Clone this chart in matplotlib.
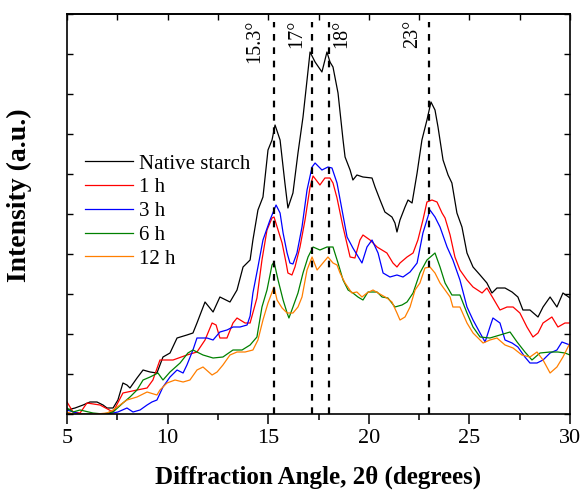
import matplotlib
matplotlib.use("Agg")
import matplotlib.pyplot as plt

plt.rcParams['font.family'] = ['Liberation Serif', 'DejaVu Serif']
plt.rcParams['mathtext.fontset'] = 'stix'

# ---------------- data (2θ in degrees, intensity in a.u.) ----------------
native_x = [5.0, 5.4, 5.8, 6.14, 6.49, 6.79, 6.99, 7.29, 7.53, 7.78,
            7.98, 8.13, 8.48, 8.78, 9.13, 9.47, 9.77, 10.12, 10.47, 10.96,
            11.26, 11.46, 11.86, 12.26, 12.6, 13.1, 13.45, 13.75, 14.1, 14.24,
            14.49, 14.74, 14.99, 15.19, 15.34, 15.59, 15.83, 15.98, 16.23, 16.48,
            16.73, 16.93, 17.08, 17.33, 17.67, 17.92, 18.07, 18.22, 18.47, 18.72,
            18.82, 19.07, 19.21, 19.41, 19.71, 20.16, 20.31, 20.56, 20.8, 21.15,
            21.3, 21.4, 21.55, 21.8, 21.95, 22.15, 22.4, 22.64, 22.89, 23.09,
            23.29, 23.44, 23.69, 23.94, 24.13, 24.38, 24.63, 24.88, 25.18, 25.53,
            25.87, 26.12, 26.37, 26.77, 27.12, 27.41, 27.66, 28.01, 28.41, 28.66,
            29.01, 29.35, 29.65, 30.0]
native_y = [4, 6, 9, 12, 12, 9, 6, 6, 14, 31,
            29, 26, 36, 44, 42, 41, 57, 61, 76, 79,
            81, 91, 112, 102, 117, 112, 124, 147, 154, 174,
            204, 217, 264, 274, 289, 274, 231, 206, 221, 261,
            297, 334, 362, 352, 342, 362, 352, 347, 321, 274,
            257, 244, 234, 239, 237, 236, 227, 214, 202, 197,
            191, 182, 194, 207, 214, 211, 241, 274, 294, 312,
            304, 287, 254, 239, 231, 201, 187, 161, 147, 139,
            131, 121, 126, 126, 122, 117, 104, 104, 97, 107,
            117, 107, 121, 116]

h1_x = [5.0, 5.3, 5.65, 5.99, 6.64, 7.29, 7.78, 8.48, 8.98, 9.27,
        9.62, 10.27, 10.96, 11.46, 11.86, 12.21, 12.41, 12.6, 12.95, 13.25,
        13.45, 13.85, 14.1, 14.44, 14.69, 14.94, 15.19, 15.29, 15.49, 15.69,
        15.89, 15.98, 16.18, 16.33, 16.58, 16.83, 17.08, 17.23, 17.57, 17.82,
        18.07, 18.22, 18.42, 18.72, 19.07, 19.31, 19.56, 19.71, 20.06, 20.41,
        20.9, 21.2, 21.4, 21.55, 21.9, 22.2, 22.44, 22.69, 22.89, 23.14,
        23.39, 23.64, 23.79, 24.04, 24.28, 24.53, 24.88, 25.18, 25.63, 25.87,
        26.17, 26.52, 26.87, 27.17, 27.51, 27.86, 28.16, 28.41, 28.66, 29.1,
        29.4, 29.75, 30.0]
h1_y = [12, 2, 1, 11, 9, 2, 21, 24, 26, 34,
        54, 54, 59, 62, 74, 91, 89, 76, 76, 91,
        96, 91, 91, 116, 154, 184, 196, 197, 184, 171,
        151, 141, 139, 147, 167, 194, 227, 238, 229, 236,
        236, 231, 216, 187, 157, 156, 174, 179, 174, 167,
        161, 151, 147, 151, 157, 161, 174, 194, 212, 214,
        212, 201, 196, 179, 157, 144, 134, 127, 121, 126,
        116, 104, 107, 107, 101, 87, 77, 81, 91, 97,
        87, 91, 91]

h3_x = [5.0, 5.65, 6.79, 7.29, 7.53, 7.98, 8.28, 8.63, 8.98, 9.22,
        9.47, 9.77, 10.12, 10.47, 10.77, 10.96, 11.26, 11.46, 11.96, 12.26,
        12.6, 12.95, 13.25, 13.6, 13.95, 14.1, 14.24, 14.49, 14.74, 15.09,
        15.39, 15.59, 15.74, 15.94, 16.08, 16.23, 16.43, 16.68, 16.93, 17.18,
        17.33, 17.67, 17.97, 18.17, 18.42, 18.67, 18.92, 19.21, 19.66, 19.91,
        20.16, 20.46, 20.71, 21.05, 21.4, 21.7, 22.05, 22.4, 22.69, 23.04,
        23.29, 23.54, 23.89, 24.18, 24.53, 24.88, 25.18, 25.53, 25.78, 26.02,
        26.17, 26.52, 26.77, 27.12, 27.41, 27.76, 28.01, 28.36, 28.66, 29.01,
        29.35, 29.6, 30.0]
h3_y = [4, 0, 0, 1, 2, 6, 2, 4, 9, 12,
        14, 27, 37, 44, 41, 49, 64, 76, 76, 74,
        82, 84, 87, 87, 89, 98, 121, 147, 174, 194,
        209, 201, 181, 161, 151, 150, 161, 187, 224, 247,
        251, 244, 247, 246, 231, 204, 177, 166, 151, 167,
        174, 161, 141, 137, 139, 137, 142, 151, 181, 204,
        197, 187, 167, 154, 134, 107, 94, 81, 72, 87,
        96, 91, 74, 71, 67, 57, 51, 51, 54, 61,
        64, 72, 69]

h6_x = [5.0, 5.3, 5.65, 6.29, 6.79, 7.29, 7.78, 8.13, 8.48, 8.78,
        9.13, 9.52, 9.77, 10.12, 10.62, 11.01, 11.26, 11.76, 12.26, 12.75,
        13.25, 13.7, 14.1, 14.44, 14.69, 14.94, 15.19, 15.29, 15.49, 15.74,
        15.94, 16.03, 16.23, 16.48, 16.73, 16.98, 17.23, 17.57, 17.92, 18.22,
        18.47, 18.72, 18.97, 19.21, 19.46, 19.71, 19.96, 20.41, 20.66, 20.95,
        21.3, 21.65, 21.9, 22.2, 22.54, 22.89, 23.29, 23.54, 23.79, 24.13,
        24.53, 24.88, 25.18, 25.53, 26.02, 26.52, 27.02, 27.37, 27.76, 28.11,
        28.51, 29.01, 29.4, 29.75, 30.0]
h6_y = [6, 2, 4, 1, 0, 2, 11, 17, 24, 34,
        37, 41, 34, 42, 51, 61, 64, 59, 56, 57,
        64, 64, 69, 77, 107, 124, 149, 152, 134, 114,
        101, 96, 107, 121, 141, 157, 167, 164, 167, 167,
        151, 134, 124, 121, 117, 114, 122, 122, 117, 116,
        107, 109, 112, 121, 141, 154, 161, 147, 131, 119,
        119, 101, 87, 77, 76, 79, 82, 72, 62, 54,
        61, 62, 62, 61, 59]

h12_x = [5.0, 5.3, 5.8, 6.49, 6.99, 7.29, 7.63, 7.98, 8.48, 8.98,
         9.47, 9.62, 9.97, 10.37, 10.77, 11.11, 11.46, 11.76, 12.21, 12.46,
         12.75, 13.1, 13.45, 13.85, 14.24, 14.49, 14.74, 14.99, 15.29, 15.44,
         15.69, 15.94, 16.23, 16.48, 16.68, 16.93, 17.18, 17.43, 17.72, 17.97,
         18.22, 18.42, 18.57, 18.82, 19.16, 19.41, 19.66, 19.91, 20.21, 20.46,
         20.9, 21.15, 21.4, 21.55, 21.8, 22.05, 22.3, 22.54, 22.79, 23.04,
         23.29, 23.54, 23.79, 24.04, 24.18, 24.53, 24.88, 25.18, 25.68, 26.02,
         26.37, 26.77, 27.17, 27.61, 28.01, 28.36, 28.66, 29.01, 29.35, 29.65,
         30.0]
h12_y = [2, 0, 0, 0, 1, 4, 9, 14, 17, 22,
         19, 24, 31, 34, 32, 34, 44, 47, 39, 42,
         49, 59, 62, 62, 64, 74, 94, 111, 127, 114,
         106, 101, 101, 107, 117, 144, 157, 144, 151, 157,
         151, 149, 141, 131, 121, 122, 117, 121, 124, 121,
         116, 112, 101, 94, 97, 107, 124, 131, 146, 147,
         141, 131, 124, 117, 107, 107, 91, 81, 71, 74,
         76, 69, 66, 59, 57, 62, 54, 41, 47, 57,
         71]

series_labels = ['Native starch', '1 h', '3 h', '6 h', '12 h']
series_colors = ['black', '#ff0000', '#0000ff', '#008000', '#ff7f00']

peak_positions = [15.3, 17.2, 18.0, 23.0]
peak_labels = ['15.3°', '17°', '18°', '23°']
peak_label_x = [14.32, 16.41, 18.64, 22.2]

x_ticks = [5, 10, 15, 20, 25, 30]

# ---------------- figure ----------------
fig = plt.figure(figsize=(5.82, 4.91), dpi=100)
ax = fig.add_axes([67 / 582, 1 - 414 / 491, 503 / 582, 400 / 491])

data = [(native_x, native_y), (h1_x, h1_y), (h3_x, h3_y), (h6_x, h6_y), (h12_x, h12_y)]
for (xs, ys), lab, col in zip(data, series_labels, series_colors):
    ax.plot(xs, ys, color=col, lw=0.9, label=lab)

ax.vlines(peak_positions, 0, 392, colors='black', linestyles=(0, (3, 3)), lw=1.6)
for px_, lab in zip(peak_label_x, peak_labels):
    ax.text(px_, 394, lab, rotation=90, ha='center', va='top', fontsize=14.5)

ax.set_xlim(5, 30)
ax.set_ylim(0, 400)
ax.set_xticks(x_ticks)
ax.set_xticks([7.5, 12.5, 17.5, 22.5, 27.5], minor=True)
ax.tick_params(axis='x', which='major', direction='out', length=7, width=1.1,
               labelsize=16, pad=4, top=False)
ax.tick_params(axis='x', which='minor', direction='out', length=4, width=1.1, top=False)
ax.set_yticks(range(0, 401, 40))
ax.set_yticklabels([])
ax.tick_params(axis='y', which='both', direction='in', length=4, width=1.0,
               left=True, right=True)

sec = ax.secondary_xaxis('top')
sec.set_xticks([5, 7.5, 10, 12.5, 15, 17.5, 20, 22.5, 25, 27.5, 30])
sec.tick_params(direction='in', length=4, width=1.0, labeltop=False)

for s in ax.spines.values():
    s.set_linewidth(1.2)
sec.spines['top'].set_linewidth(1.2)

ax.set_xlabel('Diffraction Angle, 2θ (degrees)', fontsize=18, fontweight='bold')
ax.xaxis.set_label_coords(0.5, -0.13)
ax.set_ylabel('Intensity (a.u.)', fontsize=20, fontweight='bold')
ax.yaxis.set_label_coords(-0.07, 0.548)

ax.legend(loc='upper left', bbox_to_anchor=(0.036, 0.65), frameon=False,
          fontsize=15, handlelength=2.3, handletextpad=0.3, labelspacing=0.2,
          borderpad=0, borderaxespad=0)

fig.savefig('out.png', dpi=100)
